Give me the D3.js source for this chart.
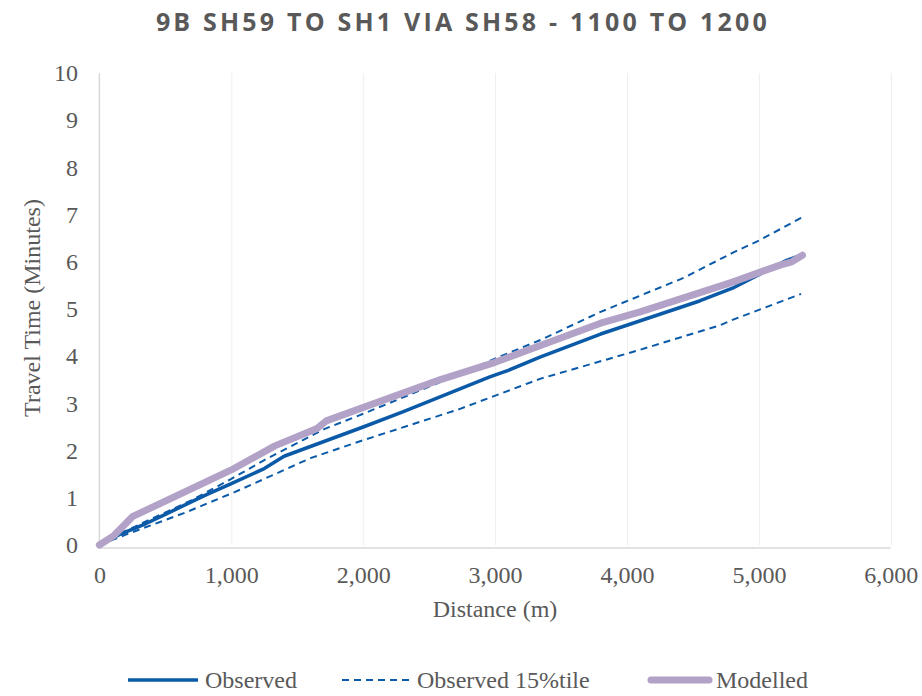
<!DOCTYPE html>
<html>
<head>
<meta charset="utf-8">
<script src="https://cdn.jsdelivr.net/npm/d3@7"></script>
<style>
  body { margin: 0; background: #fff; }
  svg text { fill: #595959; }
</style>
</head>
<body>
<div id="chart"></div>
<script>
// chart data
const chartTitle = "9B SH59 TO SH1 VIA SH58 - 1100 TO 1200";
const xTicks = [0, 1000, 2000, 3000, 4000, 5000, 6000];
const yTicks = [0, 1, 2, 3, 4, 5, 6, 7, 8, 9, 10];

const observedDist = [0, 150, 350, 500, 800, 1000, 1250, 1400, 2000, 2300, 2960, 3100, 3340, 3800, 4550, 4800, 5210, 5320];
const observedTime = [0, 0.22, 0.45, 0.65, 1.05, 1.3, 1.62, 1.88, 2.5, 2.82, 3.56, 3.7, 3.98, 4.47, 5.17, 5.44, 6.03, 6.14];

const upperDist = [0, 200, 700, 1000, 1250, 1700, 2000, 2800, 3000, 3350, 3800, 4430, 4800, 5000, 5320];
const upperTime = [0, 0.3, 0.95, 1.4, 1.8, 2.45, 2.78, 3.7, 3.95, 4.35, 4.94, 5.66, 6.19, 6.45, 6.93];

const lowerDist = [0, 200, 645, 1025, 1330, 1600, 2000, 2730, 3340, 4080, 4700, 4800, 5320];
const lowerTime = [0, 0.22, 0.68, 1.12, 1.5, 1.84, 2.22, 2.88, 3.52, 4.12, 4.65, 4.77, 5.32];

const modelDist = [0, 110, 250, 1000, 1330, 1650, 1720, 2580, 3000, 3800, 4100, 4800, 5160, 5250, 5330];
const modelTime = [0, 0.2, 0.6, 1.59, 2.1, 2.47, 2.63, 3.5, 3.87, 4.7, 4.94, 5.57, 5.93, 6.0, 6.14];

const width = 922, height = 696;
const blue = "#0b5aa8", purple = "#b3a2c7";
const serif = "'Liberation Serif', 'DejaVu Serif', serif";
const fontSize = 24;

const svg = d3.select("#chart").append("svg")
  .attr("width", width)
  .attr("height", height);

const x = d3.scaleLinear().domain([0, 6000]).range([99.4, 890.8]);
const y = d3.scaleLinear().domain([0, 10]).range([545, 73]);

// vertical gridlines
svg.append("g")
  .attr("transform", "translate(0,545)")
  .call(d3.axisBottom(x).tickValues(xTicks.slice(1)).tickSize(-472).tickFormat(""))
  .call(g => g.select(".domain").remove())
  .call(g => g.selectAll("line").attr("stroke", "#eeeeee").attr("stroke-width", 1));

// axis lines
svg.append("line")
  .attr("x1", x(0)).attr("x2", x(0))
  .attr("y1", y(10)).attr("y2", y(0) + 3)
  .attr("stroke", "#d9d9d9").attr("stroke-width", 1.5);
svg.append("line")
  .attr("x1", x(0)).attr("x2", x(6000))
  .attr("y1", y(0) + 3).attr("y2", y(0) + 3)
  .attr("stroke", "#d9d9d9").attr("stroke-width", 1.5);

// tick labels
const yAxis = svg.append("g")
  .attr("transform", "translate(78,0)")
  .call(d3.axisLeft(y).tickValues(yTicks).tickSize(0).tickPadding(0))
  .call(g => g.select(".domain").remove());
yAxis.selectAll("text")
  .attr("font-family", serif).attr("font-size", fontSize).attr("fill", "#595959");

const xAxis = svg.append("g")
  .attr("transform", "translate(0,566)")
  .call(d3.axisBottom(x).tickValues(xTicks).tickSize(0).tickPadding(0).tickFormat(d3.format(",")))
  .call(g => g.select(".domain").remove());
xAxis.selectAll("text")
  .attr("font-family", serif).attr("font-size", fontSize).attr("fill", "#595959");

// titles
svg.append("text")
  .attr("x", 463).attr("y", 31)
  .attr("text-anchor", "middle")
  .attr("font-family", "'Open Sans', sans-serif")
  .attr("font-weight", "bold")
  .attr("font-size", 25)
  .attr("letter-spacing", "3.2px")
  .text(chartTitle);

svg.append("text")
  .attr("x", 495).attr("y", 617)
  .attr("text-anchor", "middle")
  .attr("font-family", serif).attr("font-size", fontSize)
  .text("Distance (m)");

svg.append("text")
  .attr("transform", "translate(40,308) rotate(-90)")
  .attr("text-anchor", "middle")
  .attr("font-family", serif).attr("font-size", fontSize)
  .text("Travel Time (Minutes)");

// series
const line = d3.line().x(d => x(d[0])).y(d => y(d[1]));
const zip = (a, b) => a.map((v, i) => [v, b[i]]);

svg.append("path")
  .datum(zip(lowerDist, lowerTime))
  .attr("d", line).attr("fill", "none")
  .attr("stroke", blue).attr("stroke-width", 2).attr("stroke-dasharray", "7,5");

svg.append("path")
  .datum(zip(upperDist, upperTime))
  .attr("d", line).attr("fill", "none")
  .attr("stroke", blue).attr("stroke-width", 2).attr("stroke-dasharray", "7,5");

svg.append("path")
  .datum(zip(observedDist, observedTime))
  .attr("d", line).attr("fill", "none")
  .attr("stroke", blue).attr("stroke-width", 3.5).attr("stroke-linejoin", "round");

svg.append("path")
  .datum(zip(modelDist, modelTime))
  .attr("d", line).attr("fill", "none")
  .attr("stroke", purple).attr("stroke-width", 7)
  .attr("stroke-linejoin", "round").attr("stroke-linecap", "round");

// legend
const legendItems = [
  { label: "Observed", x1: 128, x2: 198, color: blue, w: 3.5, dash: null, cap: "butt" },
  { label: "Observed 15%tile", x1: 342, x2: 410, color: blue, w: 2, dash: "7,5", cap: "butt" },
  { label: "Modelled", x1: 651, x2: 709, color: purple, w: 7, dash: null, cap: "round" }
];
const legend = svg.append("g").attr("transform", "translate(0,680)");
legendItems.forEach(d => {
  legend.append("line")
    .attr("x1", d.x1).attr("x2", d.x2)
    .attr("stroke", d.color).attr("stroke-width", d.w)
    .attr("stroke-dasharray", d.dash)
    .attr("stroke-linecap", d.cap);
  legend.append("text")
    .attr("x", d.x2 + 7).attr("dy", "0.35em")
    .attr("font-family", serif).attr("font-size", fontSize)
    .text(d.label);
});
</script>
</body>
</html>
